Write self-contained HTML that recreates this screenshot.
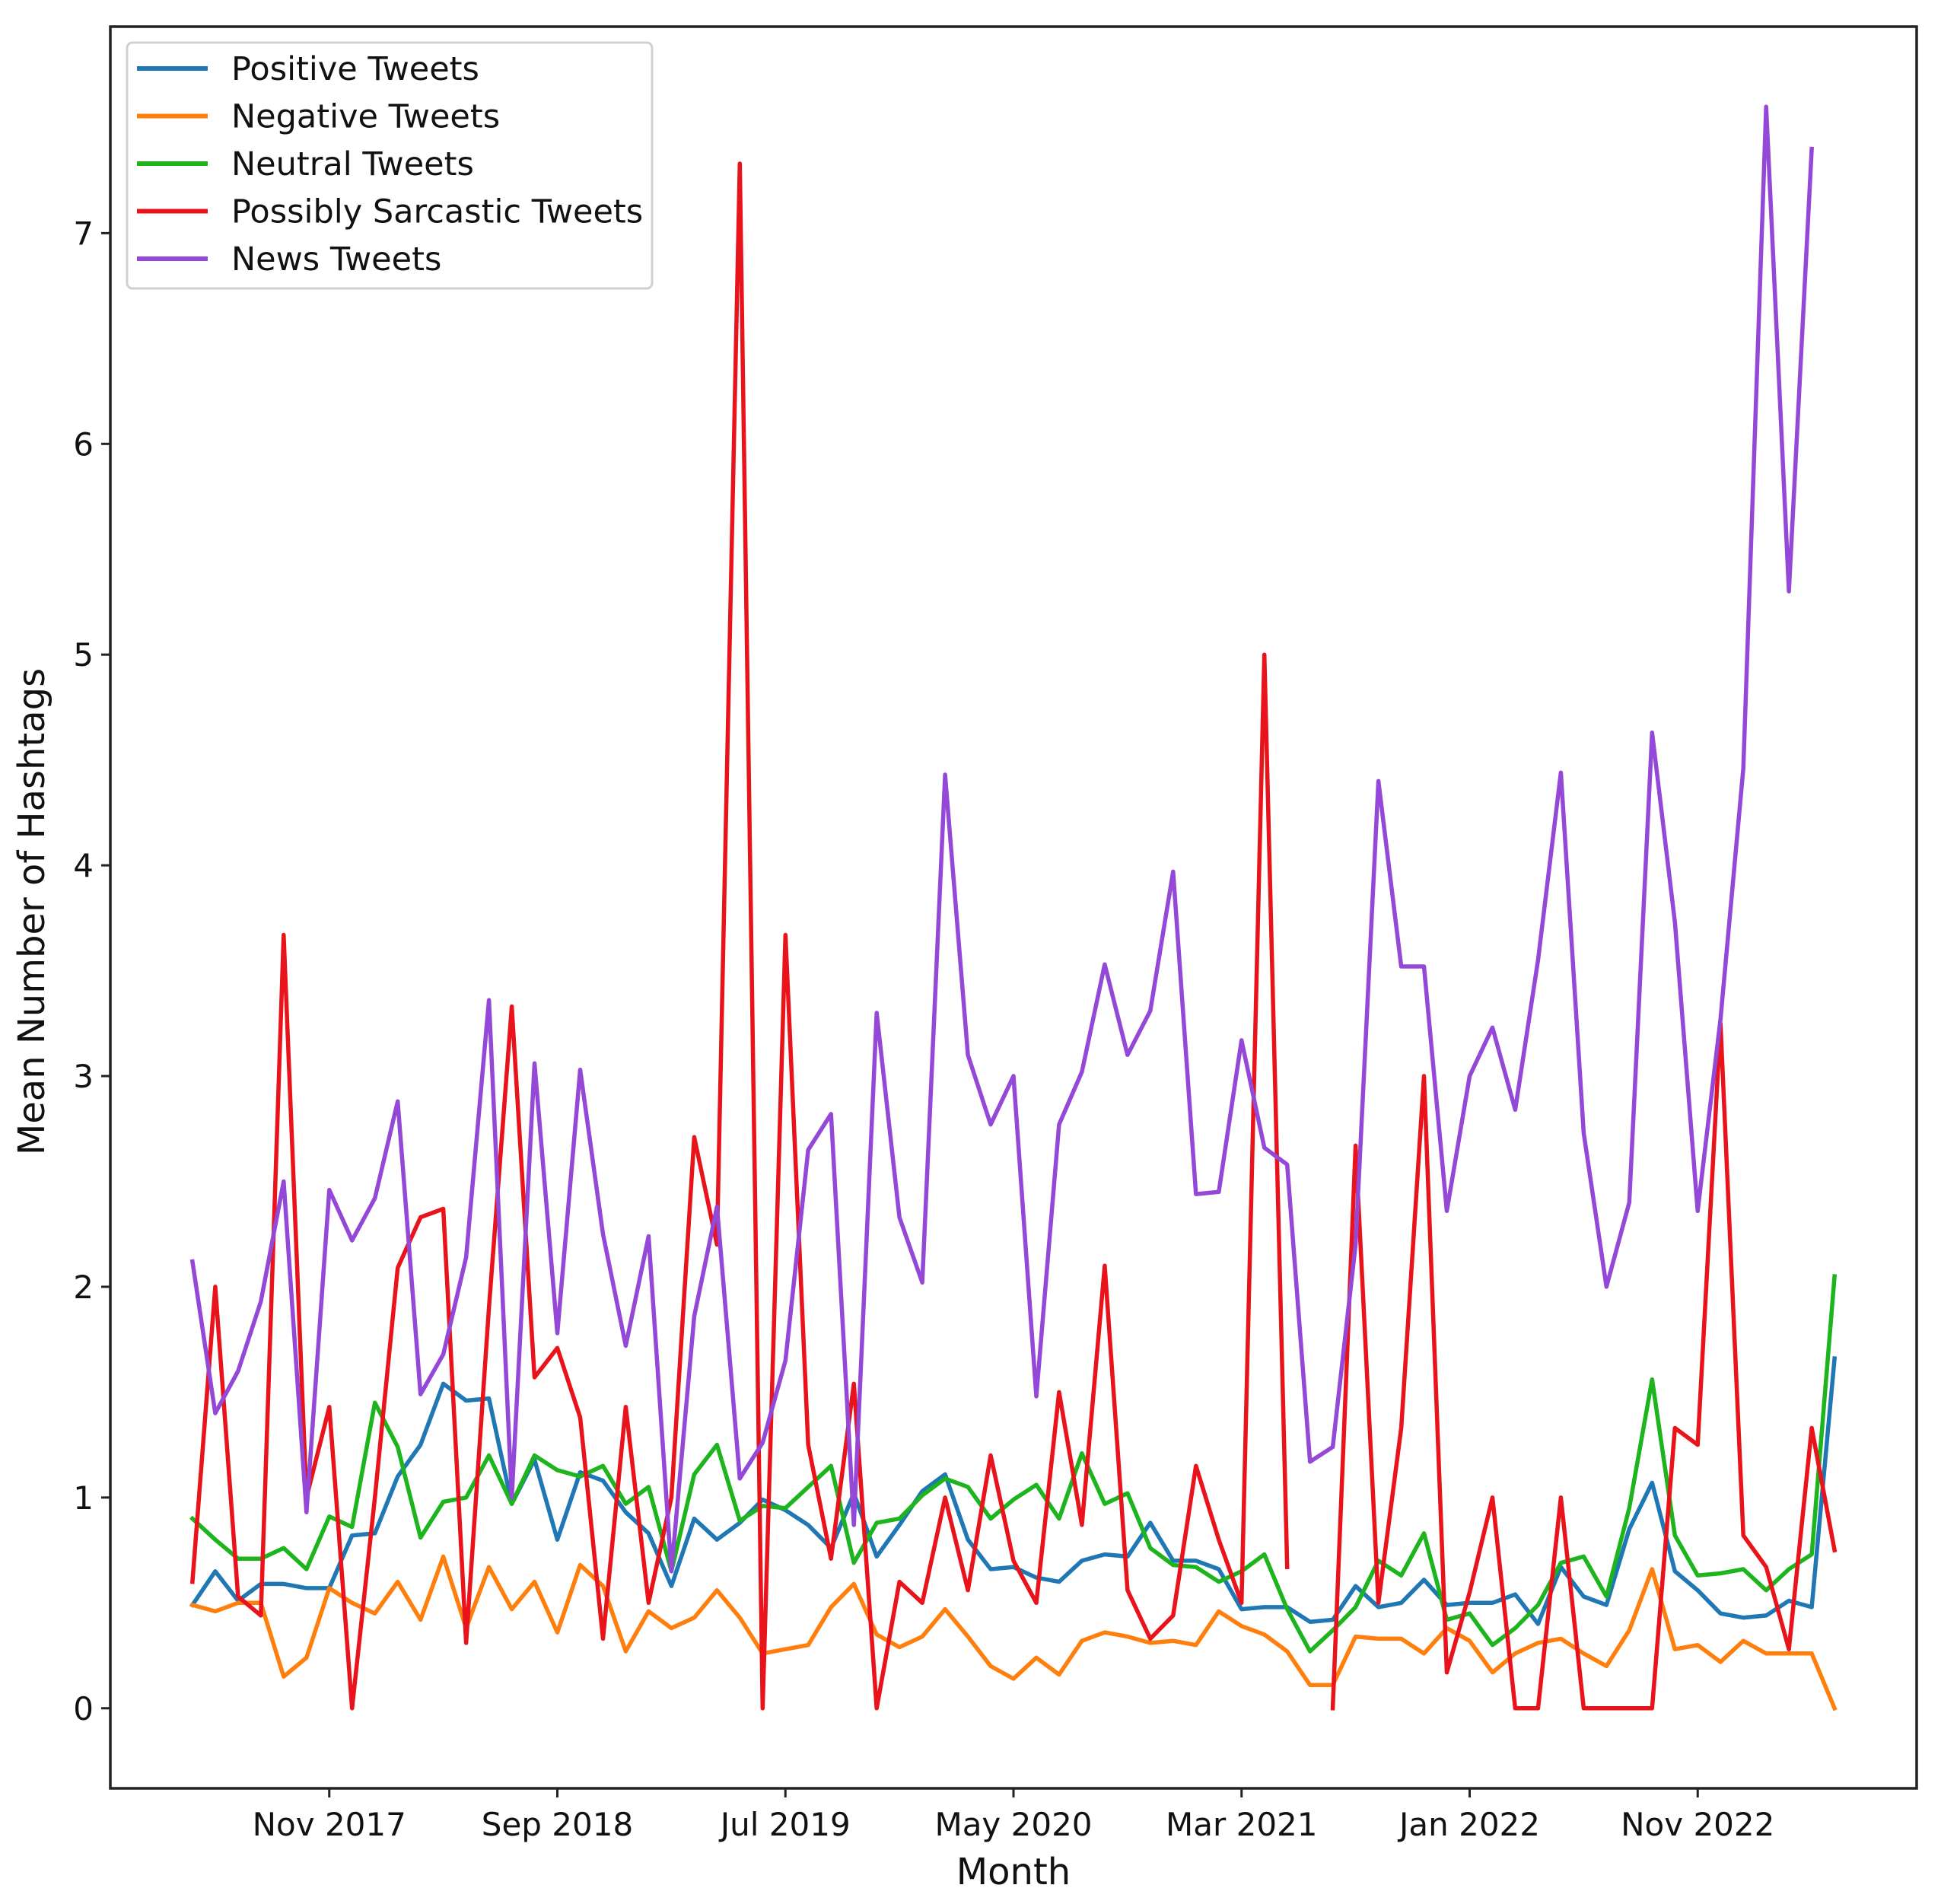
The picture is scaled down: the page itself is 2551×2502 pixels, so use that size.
<!DOCTYPE html>
<html><head><meta charset="utf-8"><style>
html,body{margin:0;padding:0;background:#fff;}
svg{display:block;font-family:"DejaVu Sans","Liberation Sans",sans-serif;}
</style></head><body>
<svg id="chart" width="2551" height="2502" viewBox="0 0 2551 2502" xmlns="http://www.w3.org/2000/svg">
<rect x="0" y="0" width="2551" height="2502" fill="#fff"/>
<g id="series"></g>
<g id="axes"></g>
<g id="legend"></g>
</svg>
<script>
const months = ["May 2017","Jun 2017","Jul 2017","Aug 2017","Sep 2017","Oct 2017","Nov 2017","Dec 2017","Jan 2018","Feb 2018","Mar 2018","Apr 2018","May 2018","Jun 2018","Jul 2018","Aug 2018","Sep 2018","Oct 2018","Nov 2018","Dec 2018","Jan 2019","Feb 2019","Mar 2019","Apr 2019","May 2019","Jun 2019","Jul 2019","Aug 2019","Sep 2019","Oct 2019","Nov 2019","Dec 2019","Jan 2020","Feb 2020","Mar 2020","Apr 2020","May 2020","Jun 2020","Jul 2020","Aug 2020","Sep 2020","Oct 2020","Nov 2020","Dec 2020","Jan 2021","Feb 2021","Mar 2021","Apr 2021","May 2021","Jun 2021","Jul 2021","Aug 2021","Sep 2021","Oct 2021","Nov 2021","Dec 2021","Jan 2022","Feb 2022","Mar 2022","Apr 2022","May 2022","Jun 2022","Jul 2022","Aug 2022","Sep 2022","Oct 2022","Nov 2022","Dec 2022","Jan 2023","Feb 2023","Mar 2023","Apr 2023","May 2023"];
const positive = [0.49,0.65,0.51,0.59,0.59,0.57,0.57,0.82,0.83,1.1,1.25,1.54,1.46,1.47,0.97,1.18,0.8,1.12,1.08,0.93,0.83,0.58,0.9,0.8,0.88,0.99,0.94,0.87,0.76,1.02,0.72,0.87,1.03,1.11,0.8,0.66,0.67,0.62,0.6,0.7,0.73,0.72,0.88,0.7,0.7,0.66,0.47,0.48,0.48,0.41,0.42,0.58,0.48,0.5,0.61,0.49,0.5,0.5,0.54,0.4,0.67,0.53,0.49,0.85,1.07,0.65,0.56,0.45,0.43,0.44,0.51,0.48,1.66];
const negative = [0.49,0.46,0.5,0.5,0.15,0.24,0.57,0.5,0.45,0.6,0.42,0.72,0.38,0.67,0.47,0.6,0.36,0.68,0.58,0.27,0.46,0.38,0.43,0.56,0.43,0.26,0.28,0.3,0.48,0.59,0.35,0.29,0.34,0.47,0.34,0.2,0.14,0.24,0.16,0.32,0.36,0.34,0.31,0.32,0.3,0.46,0.39,0.35,0.27,0.11,0.11,0.34,0.33,0.33,0.26,0.38,0.32,0.17,0.26,0.31,0.33,0.26,0.2,0.37,0.66,0.28,0.3,0.22,0.32,0.26,0.26,0.26,0.0];
const neutral = [0.9,0.8,0.71,0.71,0.76,0.66,0.91,0.86,1.45,1.24,0.81,0.98,1.0,1.2,0.97,1.2,1.13,1.1,1.15,0.97,1.05,0.65,1.11,1.25,0.89,0.96,0.95,1.05,1.15,0.69,0.88,0.9,1.01,1.09,1.05,0.9,0.99,1.06,0.9,1.21,0.97,1.02,0.76,0.68,0.67,0.6,0.65,0.73,0.47,0.27,0.37,0.48,0.7,0.63,0.83,0.42,0.45,0.3,0.38,0.49,0.69,0.72,0.53,0.95,1.56,0.82,0.63,0.64,0.66,0.56,0.66,0.73,2.05];
const sarcastic = [0.6,2.0,0.53,0.44,3.67,1.0,1.43,0.0,1.0,2.09,2.33,2.37,0.31,1.9,3.33,1.57,1.71,1.38,0.33,1.43,0.5,1.0,2.71,2.2,7.33,0.0,3.67,1.25,0.71,1.54,0.0,0.6,0.5,1.0,0.56,1.2,0.7,0.5,1.5,0.87,2.1,0.56,0.33,0.44,1.15,0.8,0.5,5.0,0.67,null,0.0,2.67,0.5,1.33,3.0,0.17,0.55,1.0,0.0,0.0,1.0,0.0,0.0,0.0,0.0,1.33,1.25,3.25,0.82,0.67,0.28,1.33,0.75];
const news = [2.12,1.4,1.6,1.93,2.5,0.93,2.46,2.22,2.42,2.88,1.49,1.68,2.14,3.36,1.0,3.06,1.78,3.03,2.25,1.72,2.24,0.65,1.86,2.38,1.09,1.26,1.65,2.65,2.82,0.87,3.3,2.33,2.02,4.43,3.1,2.77,3.0,1.48,2.77,3.02,3.53,3.1,3.31,3.97,2.44,2.45,3.17,2.66,2.58,1.17,1.24,2.2,4.4,3.52,3.52,2.36,3.0,3.23,2.84,3.55,4.44,2.73,2.0,2.4,4.63,3.73,2.36,3.27,4.46,7.6,5.3,7.4,null];
const seriesNames = ["Positive Tweets","Negative Tweets","Neutral Tweets","Possibly Sarcastic Tweets","News Tweets"];
const yTicks = [0,1,2,3,4,5,6,7];
const xTickLabels = ["Nov 2017","Sep 2018","Jul 2019","May 2020","Mar 2021","Jan 2022","Nov 2022"];

const NS="http://www.w3.org/2000/svg";
const L=145,R=2519,T=35,B=2350;
const n=months.length;
const pad=(n-1)*0.05;
function xs(i){return L+(i+pad)/((n-1)+2*pad)*(R-L);}
const ymin=-0.38,ymax=7.98;
function ys(v){return B-(v-ymin)/(ymax-ymin)*(B-T);}
function mk(tag,attrs,parent){const e=document.createElementNS(NS,tag);for(const k in attrs)e.setAttribute(k,attrs[k]);parent.appendChild(e);return e;}
const colors=["#1f77b4","#ff7f0e","#1db41d","#e8131b","#9448d8"];
const data=[positive,negative,neutral,sarcastic,news];
const keys=["positive","negative","neutral","sarcastic","news"];
const sg=document.getElementById('series');
data.forEach((arr,s)=>{
  let d="",pen=false;
  arr.forEach((v,i)=>{
    if(v===null){pen=false;return;}
    d+=(pen?"L":"M")+xs(i).toFixed(1)+","+ys(v).toFixed(1);pen=true;
  });
  const p=mk('path',{d:d,fill:'none',stroke:colors[s],'stroke-width':5.5,'stroke-linejoin':'round','stroke-linecap':'square'},sg);
  
  
});
const ag=document.getElementById('axes');
const frame=mk('rect',{x:L,y:T,width:R-L,height:B-T,fill:'none',stroke:'#222','stroke-width':3.5},ag);


yTicks.forEach(v=>{
  const y=ys(v);
  mk('line',{x1:L-12,x2:L,y1:y,y2:y,stroke:'#222','stroke-width':3},ag);
  const t=mk('text',{x:L-22,y:y+15,'text-anchor':'end','font-size':42,fill:'#111'},ag);
  t.textContent=v;
  
  
});
xTickLabels.forEach(lab=>{
  const i=months.indexOf(lab);const x=xs(i);
  mk('line',{x1:x,x2:x,y1:B,y2:B+12,stroke:'#222','stroke-width':3},ag);
  const t=mk('text',{x:x,y:B+62,'text-anchor':'middle','font-size':42,fill:'#111'},ag);
  t.textContent=lab;
  
  
});
const xt=mk('text',{x:(L+R)/2,y:2476,'text-anchor':'middle','font-size':48,fill:'#111'},ag);
xt.textContent="Month";


const yt=mk('text',{x:0,y:0,'text-anchor':'middle','font-size':48,fill:'#111',transform:'translate(58,1198) rotate(-90)'},ag);
yt.textContent="Mean Number of Hashtags";


const lg=document.getElementById('legend');
const box=mk('rect',{x:167,y:56,width:690,height:323,rx:7,fill:'#fff','fill-opacity':0.85,stroke:'#d0d0d0','stroke-width':3},lg);


seriesNames.forEach((nm,s)=>{
  const y=90+s*62.5;
  const g=mk('g',{},lg);
  
  
  mk('line',{x1:180,x2:273,y1:y,y2:y,stroke:colors[s],'stroke-width':6},g);
  const t=mk('text',{x:304,y:y+15,'font-size':43,fill:'#111'},g);
  t.textContent=nm;
});
</script>
</body></html>
